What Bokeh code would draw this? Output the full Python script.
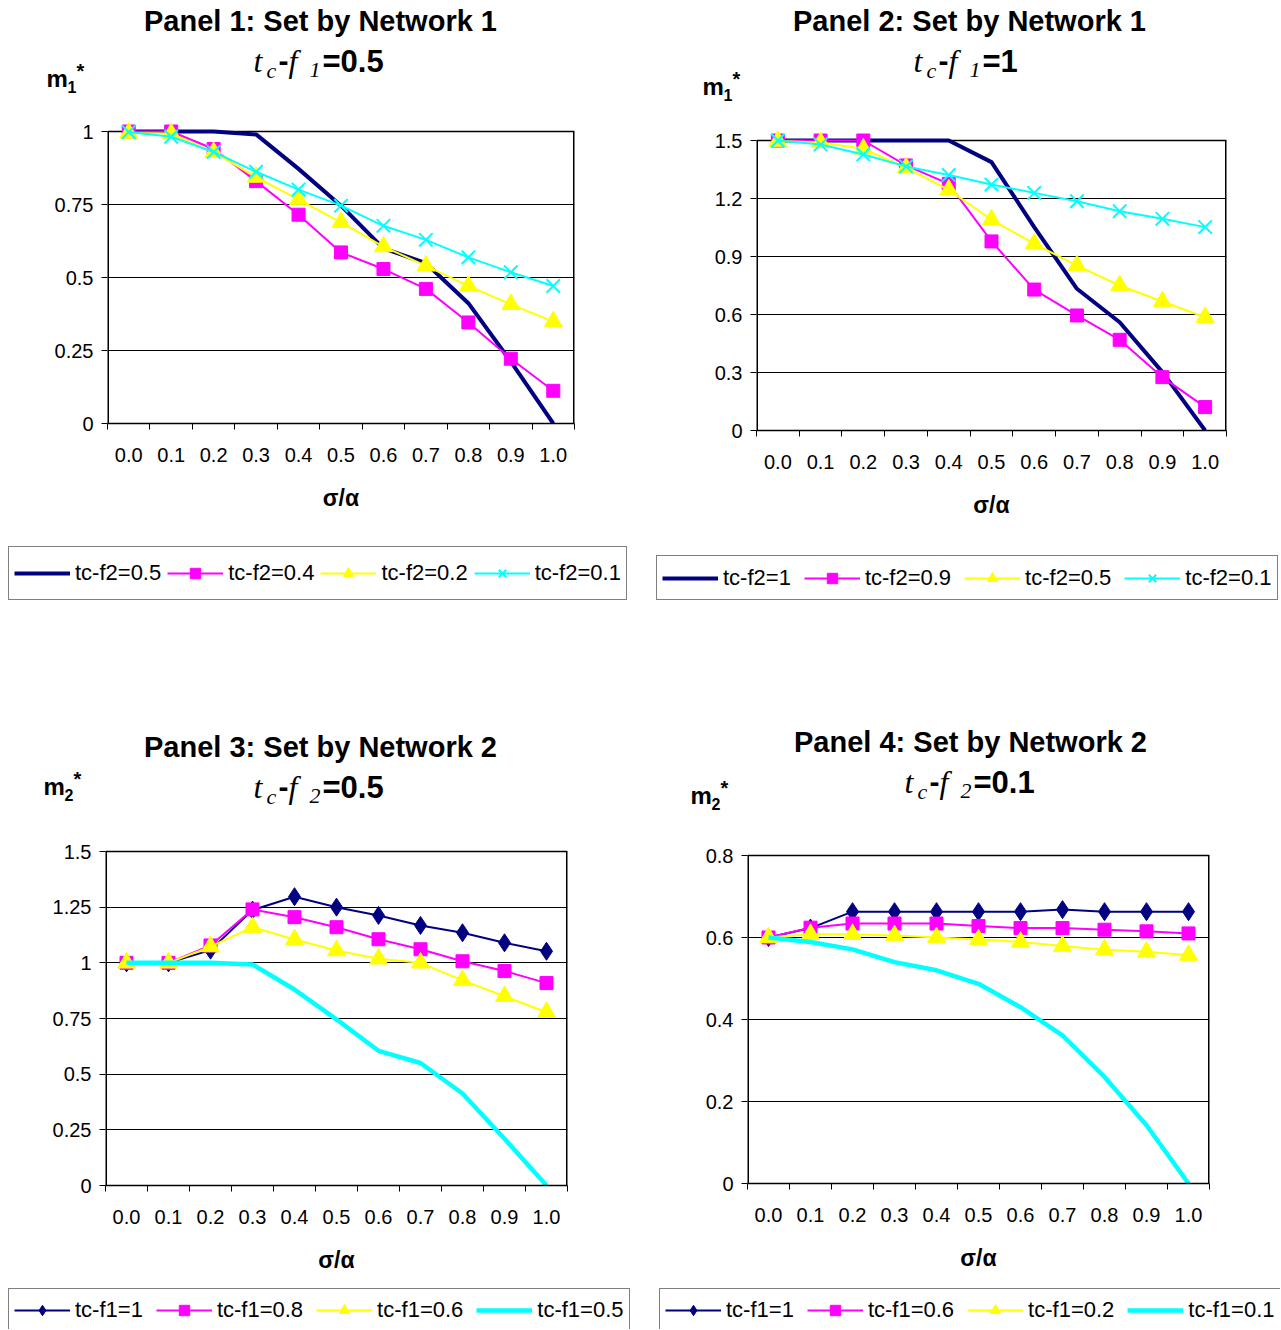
from bokeh.plotting import figure
from bokeh.models import (Range1d, FixedTicker, Label, Legend, LegendItem,
                          NumeralTickFormatter)
from bokeh.layouts import column, row
from bokeh.embed import file_html
from bokeh.resources import INLINE

# ---------------- data ----------------
sigma = [0.0, 0.1, 0.2, 0.3, 0.4, 0.5, 0.6, 0.7, 0.8, 0.9, 1.0]
sigma_labels = ["0.0", "0.1", "0.2", "0.3", "0.4", "0.5", "0.6", "0.7", "0.8", "0.9", "1.0"]

p1_names = ["tc-f2=0.5", "tc-f2=0.4", "tc-f2=0.2", "tc-f2=0.1"]
p1_a = [1.0, 1.0, 1.0, 0.99, 0.872, 0.746, 0.60, 0.549, 0.412, 0.212, 0.0]
p1_b = [1.0, 1.0, 0.94, 0.83, 0.715, 0.586, 0.529, 0.461, 0.346, 0.222, 0.112]
p1_c = [0.995, 0.993, 0.929, 0.844, 0.767, 0.689, 0.606, 0.54, 0.471, 0.408, 0.349]
p1_d = [0.998, 0.982, 0.93, 0.862, 0.801, 0.746, 0.677, 0.629, 0.569, 0.518, 0.471]
p1_yticks = [0, 0.25, 0.5, 0.75, 1.0]

p2_names = ["tc-f2=1", "tc-f2=0.9", "tc-f2=0.5", "tc-f2=0.1"]
p2_a = [1.5, 1.5, 1.5, 1.5, 1.5, 1.388, 1.052, 0.733, 0.56, 0.302, 0.0]
p2_b = [1.5, 1.5, 1.5, 1.371, 1.276, 0.978, 0.729, 0.595, 0.469, 0.276, 0.121]
p2_c = [1.497, 1.49, 1.457, 1.359, 1.245, 1.09, 0.966, 0.853, 0.75, 0.667, 0.586]
p2_d = [1.5, 1.479, 1.428, 1.366, 1.322, 1.272, 1.229, 1.186, 1.134, 1.095, 1.052]
p2_yticks = [0, 0.3, 0.6, 0.9, 1.2, 1.5]

p3_names = ["tc-f1=1", "tc-f1=0.8", "tc-f1=0.6", "tc-f1=0.5"]
p3_a = [1.0, 1.0, 1.057, 1.237, 1.297, 1.25, 1.213, 1.168, 1.135, 1.09, 1.052]
p3_b = [1.0, 1.0, 1.078, 1.24, 1.205, 1.16, 1.106, 1.061, 1.007, 0.963, 0.909]
p3_c = [1.0, 1.0, 1.073, 1.16, 1.105, 1.055, 1.018, 1.0, 0.921, 0.85, 0.778]
p3_d = [1.0, 1.0, 1.0, 0.993, 0.88, 0.746, 0.605, 0.55, 0.413, 0.21, 0.0]
p3_yticks = [0, 0.25, 0.5, 0.75, 1.0, 1.25, 1.5]

p4_names = ["tc-f1=1", "tc-f1=0.6", "tc-f1=0.2", "tc-f1=0.1"]
p4_a = [0.6, 0.623, 0.663, 0.663, 0.663, 0.663, 0.663, 0.668, 0.663, 0.663, 0.663]
p4_b = [0.6, 0.624, 0.634, 0.634, 0.634, 0.628, 0.623, 0.623, 0.619, 0.615, 0.61]
p4_c = [0.6, 0.608, 0.608, 0.605, 0.6, 0.595, 0.589, 0.579, 0.57, 0.565, 0.557]
p4_d = [0.6, 0.589, 0.571, 0.54, 0.52, 0.487, 0.43, 0.361, 0.26, 0.142, 0.0]
p4_yticks = [0, 0.2, 0.4, 0.6, 0.8]

# ---------------- styles ----------------
NAVY, MAG, YEL, CYAN = "#000080", "#FF00FF", "#FFFF00", "#00FFFF"
ST = {
    "navy_thick": dict(color=NAVY, lw=4, marker=None, size=0),
    "navy_dia": dict(color=NAVY, lw=2, marker="diamond", size=18),
    "mag_sq": dict(color=MAG, lw=2, marker="square", size=13),
    "yel_tri": dict(color=YEL, lw=2, marker="triangle", size=18),
    "cyan_x": dict(color=CYAN, lw=2, marker="x", size=19),
    "cyan_thick": dict(color=CYAN, lw=4.5, marker=None, size=0),
}
SANS = "Liberation Sans"
SERIF = "Liberation Serif"
PAD = 10      # free pixels above the top gridline so top markers are not clipped
GAP = 6       # border above the plot frame
BASE_FIX = 0.37  # label baseline correction (fraction of font size)

panels = [
    dict(fx=0, fw=648, fy=0, fh=648, L=107, R=574, T=131, B=423, pe=540,
         names=p1_names, series=[p1_a, p1_b, p1_c, p1_d],
         styles=["navy_thick", "mag_sq", "yel_tri", "cyan_x"],
         yticks=p1_yticks, yfmt="0.[00]",
         title="Panel 1: Set by Network 1", tcx=320, tby=31,
         l2x=253, l2y=72, sub2="1", rhs="=0.5", ylab_sub="1", mx=46, my=87,
         leg=dict(x=8, bottom=600, lh=42, spacing=6)),
    dict(fx=648, fw=632, fy=0, fh=648, L=756, R=1226, T=140, B=430, pe=548,
         names=p2_names, series=[p2_a, p2_b, p2_c, p2_d],
         styles=["navy_thick", "mag_sq", "yel_tri", "cyan_x"],
         yticks=p2_yticks, yfmt="0.[0]",
         title="Panel 2: Set by Network 1", tcx=969, tby=31,
         l2x=913, l2y=72, sub2="1", rhs="=1", ylab_sub="1", mx=702, my=95,
         leg=dict(x=656, bottom=600, lh=33, spacing=13)),
    dict(fx=0, fw=648, fy=648, fh=681, L=105, R=567, T=851, B=1185, pe=1285,
         names=p3_names, series=[p3_a, p3_b, p3_c, p3_d],
         styles=["navy_dia", "mag_sq", "yel_tri", "cyan_thick"],
         yticks=p3_yticks, yfmt="0.[00]",
         title="Panel 3: Set by Network 2", tcx=320, tby=757,
         l2x=253, l2y=798, sub2="2", rhs="=0.5", ylab_sub="2", mx=43, my=795,
         leg=dict(x=8, bottom=1331, lh=31, spacing=13)),
    dict(fx=648, fw=632, fy=648, fh=681, L=747, R=1209, T=855, B=1183, pe=1285,
         names=p4_names, series=[p4_a, p4_b, p4_c, p4_d],
         styles=["navy_dia", "mag_sq", "yel_tri", "cyan_thick"],
         yticks=p4_yticks, yfmt="0.[0]",
         title="Panel 4: Set by Network 2", tcx=970, tby=752,
         l2x=904, l2y=793, sub2="2", rhs="=0.1", ylab_sub="2", mx=690, my=804,
         leg=dict(x=659, bottom=1331, lh=31, spacing=13)),
]


def blank(x0, y0, w, h):
    """A figure whose frame fills it, with ranges in page pixels (y down)."""
    f = figure(width=w, height=h, min_border=0, frame_align=False,
               x_range=Range1d(x0, x0 + w), y_range=Range1d(y0 + h, y0),
               x_axis_location=None, y_axis_location=None,
               output_backend="svg", toolbar_location=None,
               background_fill_color="white", border_fill_color="white")
    f.grid.visible = False
    f.outline_line_color = None
    return f


def txt(f, X, Y, text, size, style="normal", font=SANS, align="left"):
    f.add_layout(Label(x=X, y=Y - BASE_FIX * size, text=text, text_font=font,
                       text_font_size=f"{size}px", text_font_style=style,
                       text_align=align, text_baseline="alphabetic",
                       text_color="black"))


def add_series(f, name, ys, sk, xs):
    s = ST[sk]
    rs = [f.line(xs, ys, line_color=s["color"], line_width=s["lw"])]
    if s["marker"] == "x":
        rs.append(f.scatter(xs, ys, marker="x", size=s["size"],
                            line_color=s["color"], line_width=2))
    elif s["marker"]:
        rs.append(f.scatter(xs, ys, marker=s["marker"], size=s["size"],
                            fill_color=s["color"], line_color=s["color"]))
    return LegendItem(label=name, renderers=rs)


def make_panel(c):
    L, R, T, B = c["L"], c["R"], c["T"], c["B"]
    fx, fw, fy, fh = c["fx"], c["fw"], c["fy"], c["fh"]
    top_plot = T - PAD - GAP

    # ---- header: titles and y label ----
    head = blank(fx, fy, fw, top_plot - fy)
    txt(head, c["tcx"], c["tby"], c["title"], 29, "bold", align="center")
    x, y = c["l2x"], c["l2y"]
    txt(head, x, y, "t", 32, "italic", SERIF)
    txt(head, x + 13, y + 6, "c", 22, "italic", SERIF)
    txt(head, x + 25, y, "-", 30, "bold")
    txt(head, x + 35, y, "f", 32, "italic", SERIF)
    txt(head, x + 56, y + 6, c["sub2"], 22, "italic", SERIF)
    txt(head, x + 69, y, c["rhs"], 31, "bold")
    txt(head, c["mx"], c["my"], "m", 24, "bold")
    txt(head, c["mx"] + 21, c["my"] + 5, c["ylab_sub"], 16, "bold")
    txt(head, c["mx"] + 30, c["my"] - 9, "*", 20, "bold")

    # ---- plot ----
    ymax = c["yticks"][-1]
    y_end = ymax * (B - (T - PAD)) / (B - T)
    step = sigma[1] - sigma[0]
    bounds = [sigma[0] - step / 2 + i * step for i in range(len(sigma) + 1)]
    p = figure(width=fw, height=c["pe"] - top_plot, frame_align=False,
               min_border_left=L - fx, min_border_right=fx + fw - R,
               min_border_top=GAP, min_border_bottom=c["pe"] - B,
               x_range=Range1d(bounds[0], bounds[-1]), y_range=Range1d(0, y_end),
               output_backend="svg", toolbar_location=None,
               background_fill_color="white", border_fill_color="white")
    p.outline_line_color = None
    p.xgrid.visible = False
    p.ygrid.ticker = FixedTicker(ticks=c["yticks"])
    p.ygrid.grid_line_color = "black"
    p.ygrid.grid_line_width = 1

    xax = p.xaxis[0]
    xax.ticker = FixedTicker(ticks=sigma, minor_ticks=bounds)
    xax.formatter = NumeralTickFormatter(format="0.0")
    xax.major_tick_out = 0
    xax.major_tick_in = 0
    xax.minor_tick_out = 6
    xax.minor_tick_in = 0
    xax.minor_tick_line_color = "black"
    xax.axis_line_color = "black"
    xax.axis_line_width = 1.5
    xax.major_label_text_font = SANS
    xax.major_label_text_font_size = "20px"
    xax.major_label_text_color = "black"
    xax.major_label_standoff = 18
    xax.axis_label = "σ/α"
    xax.axis_label_text_font = SANS
    xax.axis_label_text_font_style = "bold"
    xax.axis_label_text_font_size = "23px"
    xax.axis_label_text_color = "black"
    xax.axis_label_standoff = 20

    yax = p.yaxis[0]
    yax.ticker = FixedTicker(ticks=c["yticks"])
    yax.formatter = NumeralTickFormatter(format=c["yfmt"])
    yax.axis_line_color = None
    yax.major_tick_out = 6
    yax.major_tick_in = 0
    yax.major_tick_line_color = "black"
    yax.minor_tick_line_color = None
    yax.major_label_text_font = SANS
    yax.major_label_text_font_size = "20px"
    yax.major_label_text_color = "black"
    yax.major_label_standoff = 8

    # frame border: top, left, right (bottom is the x axis line)
    x0, x1 = bounds[0], bounds[-1]
    p.segment(x0=[x0], y0=[ymax], x1=[x1], y1=[ymax], line_color="black", line_width=1.5)
    p.segment(x0=[x0, x1], y0=[0, 0], x1=[x0, x1], y1=[ymax, ymax],
              line_color="black", line_width=3)

    for name, ys, sk in zip(c["names"], c["series"], c["styles"]):
        add_series(p, name, ys, sk, sigma)

    # ---- legend strip (its own copies of the series lie outside its view) ----
    lh = fy + fh - c["pe"]
    lf = blank(fx, c["pe"], fw, lh)
    items = []
    for name, ys, sk in zip(c["names"], c["series"], c["styles"]):
        items.append(add_series(lf, name, ys, sk, sigma))
    lg = c["leg"]
    leg = Legend(items=items, orientation="horizontal",
                 location=(lg["x"] - fx, c["pe"] + lh - lg["bottom"]),
                 border_line_color="black", border_line_width=1,
                 background_fill_color="white", background_fill_alpha=1,
                 padding=5, margin=0, spacing=lg["spacing"],
                 glyph_width=56, glyph_height=26, label_height=lg["lh"],
                 label_standoff=5,
                 label_text_font=SANS, label_text_font_size="22px",
                 label_text_color="black", label_text_baseline="middle")
    lf.add_layout(leg, "center")
    return column(head, p, lf, spacing=0)


cols = [make_panel(c) for c in panels]
layout = column(row(cols[0], cols[1], spacing=0), row(cols[2], cols[3], spacing=0), spacing=0)
open("out.html", "w").write(file_html(layout, INLINE))
